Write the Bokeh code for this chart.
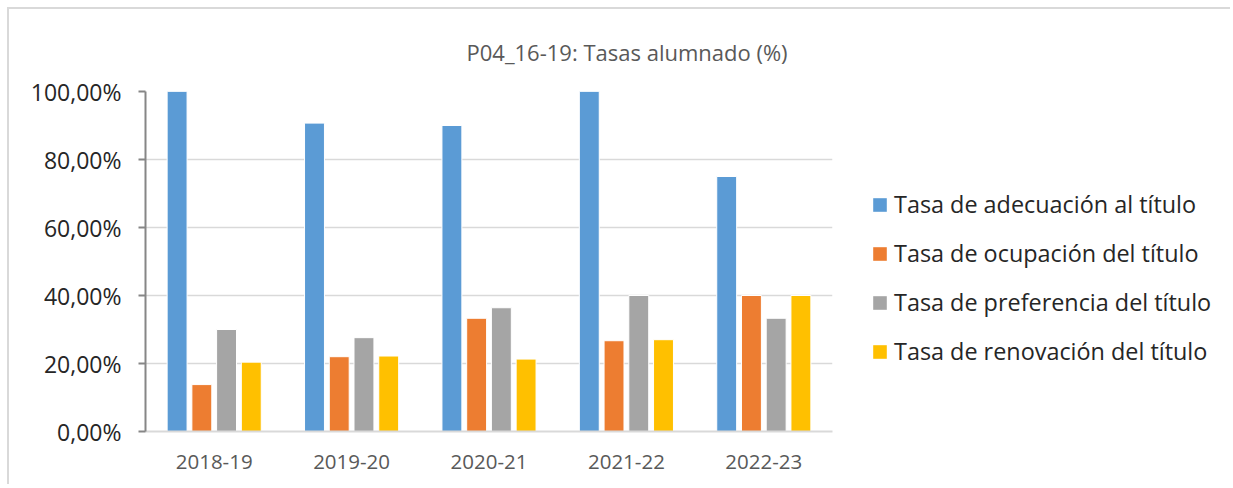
from bokeh.plotting import figure
from bokeh.layouts import row
from bokeh.models import (FactorRange, Range1d, Legend, LegendItem,
                          CustomJSTickFormatter, FixedTicker)
from bokeh.transform import dodge
from bokeh.embed import file_html
from bokeh.resources import INLINE

years = ["2018-19", "2019-20", "2020-21", "2021-22", "2022-23"]
adecuacion = [100.0, 90.7, 90.0, 100.0, 75.0]
ocupacion = [13.8, 22.0, 33.3, 26.7, 40.0]
preferencia = [30.0, 27.6, 36.4, 40.0, 33.3]
renovacion = [20.4, 22.2, 21.3, 27.0, 40.0]
series_names = ["Tasa de adecuación al título", "Tasa de ocupación del título",
                "Tasa de preferencia del título", "Tasa de renovación del título"]
colors = ["#5B9BD5", "#ED7D31", "#A5A5A5", "#FFC000"]
y_ticks = [0, 20, 40, 60, 80, 100]
title_text = "P04_16-19: Tasas alumnado (%)"

H = 477
W1 = 830
W2 = 393
FONT = "Open Sans"
BORDER = "2px solid #d9d9d9"

p = figure(x_range=FactorRange(*years), y_range=Range1d(0, 100),
           width=W1, height=H, output_backend="svg", toolbar_location=None,
           min_border_left=136, min_border_top=82, min_border_bottom=55,
           min_border_right=7, title=title_text)
p.styles = {"border-top": BORDER, "border-left": BORDER}
p.outline_line_color = None
p.background_fill_color = "white"
p.border_fill_color = "white"

p.title.align = "left"
p.title.offset = 321
p.title.standoff = 49
p.title.text_font = FONT
p.title.text_font_size = "22px"
p.title.text_font_style = "normal"
p.title.text_color = "#595959"

data = dict(years=years, a=adecuacion, o=ocupacion, pr=preferencia, r=renovacion)
offsets = [-0.27, -0.09, 0.09, 0.27]
keys = ["a", "o", "pr", "r"]
for k, off, c in zip(keys, offsets, colors):
    p.vbar(x=dodge("years", off, range=p.x_range), top=k, width=0.145,
           source=data, fill_color=c, line_color="white", line_width=1)

# axes
p.yaxis.ticker = FixedTicker(ticks=y_ticks)
p.yaxis.formatter = CustomJSTickFormatter(
    code="return tick.toFixed(2).replace('.', ',') + '%';")
p.yaxis.axis_line_color = "#868686"
p.yaxis.axis_line_width = 2
p.yaxis.major_tick_line_color = "#868686"
p.yaxis.major_tick_line_width = 2
p.yaxis.major_tick_out = 7
p.yaxis.major_tick_in = 0
p.yaxis.minor_tick_line_color = None
p.yaxis.major_label_standoff = 17
p.yaxis.major_label_text_font = FONT
p.yaxis.major_label_text_font_size = "23px"
p.yaxis.major_label_text_color = "#262626"

p.xaxis.axis_line_color = "#D9D9D9"
p.xaxis.axis_line_width = 2
p.xaxis.major_tick_line_color = None
p.xaxis.major_tick_out = 0
p.xaxis.major_tick_in = 0
p.xaxis.major_label_standoff = 23
p.xaxis.major_label_text_font = FONT
p.xaxis.major_label_text_font_size = "20.5px"
p.xaxis.major_label_text_color = "#595959"

p.xgrid.grid_line_color = None
p.ygrid.grid_line_color = "#D9D9D9"
p.ygrid.grid_line_width = 1.5

# legend panel (zero-size proxy glyphs only carry the legend swatches)
q = figure(width=W2, height=H, output_backend="svg", toolbar_location=None,
           x_range=Range1d(0, 1), y_range=Range1d(0, 1),
           x_axis_location=None, y_axis_location=None,
           min_border=0, min_border_left=0, min_border_right=0,
           min_border_top=0, min_border_bottom=0)
q.styles = {"border-top": BORDER}
q.outline_line_color = None
q.xgrid.grid_line_color = None
q.ygrid.grid_line_color = None
q.border_fill_color = "white"
q.background_fill_color = "white"

legend_renderers = []
for c in colors:
    r = q.quad(left=[0], right=[0], top=[0], bottom=[0], fill_color=c, line_color=None)
    legend_renderers.append(r)

legend = Legend(items=[LegendItem(label=n, renderers=[r])
                       for n, r in zip(series_names, legend_renderers)],
                location=(34, 64), orientation="vertical")
legend.label_text_font = FONT
legend.label_text_font_size = "23.4px"
legend.label_text_color = "#262626"
legend.glyph_width = 17
legend.glyph_height = 17
legend.label_standoff = 6
legend.label_height = 24
legend.spacing = 17
legend.padding = 0
legend.margin = 0
legend.border_line_alpha = 0
legend.background_fill_alpha = 0
q.add_layout(legend, "center")

layout = row(p, q, styles={"margin-left": "7px", "margin-top": "7px"})

open("out.html", "w").write(file_html(layout, INLINE))
